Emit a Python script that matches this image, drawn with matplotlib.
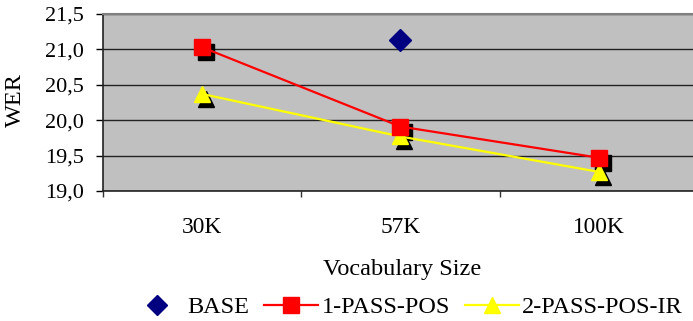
import matplotlib
matplotlib.use("Agg")
import matplotlib.pyplot as plt
from matplotlib.transforms import offset_copy
from matplotlib.ticker import FixedLocator, FuncFormatter
from matplotlib.lines import Line2D

categories = ["30K", "57K", "100K"]
base_wer = [None, 21.13, None]
pos1_wer = [21.03, 19.91, 19.47]
pos2_wer = [20.37, 19.77, 19.27]
y_ticks = [19.0, 19.5, 20.0, 20.5, 21.0, 21.5]

plt.rcParams["font.family"] = ["Liberation Serif", "DejaVu Serif"]
FS_Y = 16
FS_X = 16.8
FS = 17.5

fig = plt.figure(figsize=(6.93, 3.21), dpi=100)
ax = fig.add_axes([103 / 693, 1 - 191 / 321, (693 - 103) / 693, (191 - 14) / 321])
ax.set_facecolor("#c0c0c0")

x = list(range(len(categories)))
shadow = offset_copy(ax.transData, fig=fig, x=4, y=-5, units="dots")

# drop shadows behind the markers
ax.plot(x, pos1_wer, linestyle="none", marker="s", ms=11, color="black",
        transform=shadow, zorder=3)
ax.plot(x, pos2_wer, linestyle="none", marker="^", ms=12, color="black",
        transform=shadow, zorder=3)

ax.plot(x, pos1_wer, color="#ff0000", lw=1.6, marker="s", ms=11,
        mec="#ff0000", mfc="#ff0000", zorder=5)
ax.plot(x, pos2_wer, color="#ffff00", lw=1.6, marker="^", ms=12,
        mec="#ffff00", mfc="#ffff00", zorder=4)
bx = [i for i, v in zip(x, base_wer) if v is not None]
by = [v for v in base_wer if v is not None]
ax.plot(bx, by, linestyle="none", marker="D", ms=11, color="#000080", zorder=5)

ax.set_ylim(19.0, 21.5)
ax.set_xlim(-0.5, 2.475)
ax.yaxis.set_major_locator(FixedLocator(y_ticks))
ax.yaxis.set_major_formatter(FuncFormatter(lambda v, p: f"{v:.1f}".replace(".", ",")))
ax.grid(axis="y", color="#222222", lw=1.0, zorder=1)
ax.set_axisbelow(True)

ax.xaxis.set_major_locator(FixedLocator([-0.5, 0.5, 1.5, 2.5]))
ax.xaxis.set_minor_locator(FixedLocator(x))
ax.set_xticklabels([])
ax.set_xticklabels(categories, minor=True)
ax.tick_params(axis="x", which="major", length=4.5, width=1, color="#333333", direction="out")
ax.tick_params(axis="x", which="minor", length=0, pad=19, labelsize=FS_X)
ax.tick_params(axis="y", length=5, width=1, direction="out", labelsize=FS_Y, pad=9)

for s in ["left", "bottom"]:
    ax.spines[s].set_color("#222222")
    ax.spines[s].set_linewidth(1.2)
ax.spines["top"].set_color("#808080")
ax.spines["top"].set_linewidth(1.5)
ax.spines["right"].set_visible(False)

ax.set_ylabel("WER", fontsize=FS)
ax.yaxis.set_label_coords((26 - 103) / 590, (191 - 100) / 177)
fig.text(402 / 693, 1 - 269 / 321, "Vocabulary Size",
         ha="center", va="center", fontsize=FS)

handles = [
    Line2D([], [], linestyle="none", marker="D", ms=10, color="#000080"),
    Line2D([], [], color="#ff0000", lw=1.6, marker="s", ms=11),
    Line2D([], [], color="#ffff00", lw=1.6, marker="^", ms=12),
]
fig.legend(handles, ["BASE", "1-PASS-POS", "2-PASS-POS-IR"], loc="center left",
           bbox_to_anchor=(130 / 693, 1 - 307 / 321), ncol=3, frameon=False,
           fontsize=FS, handlelength=2.22, handletextpad=0.15, columnspacing=0.6,
           borderpad=0, borderaxespad=0)

fig.savefig("out.png", dpi=100)
